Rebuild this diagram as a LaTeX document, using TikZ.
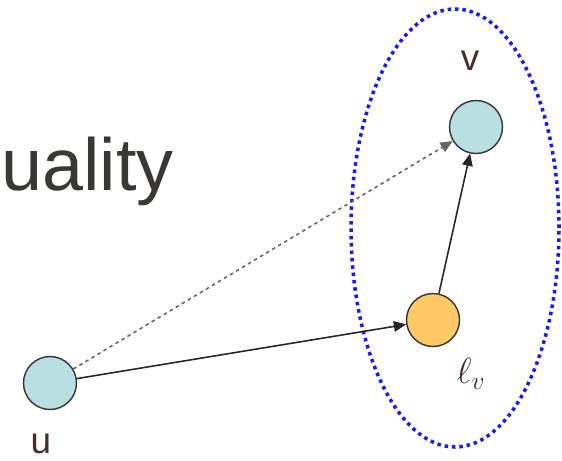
\documentclass[tikz,border=0pt]{standalone}
\usepackage{fontspec}
\setmainfont{Liberation Sans}
\usetikzlibrary{arrows.meta, shapes.geometric}
\usepackage{xcolor}
\definecolor{vertCol}{HTML}{B9DFE2}
\definecolor{landCol}{HTML}{FFC966}
\definecolor{ringCol}{HTML}{1A1AF5}
\definecolor{textCol}{HTML}{3A3835}
\definecolor{labelCol}{HTML}{4A2A30}

\begin{document}
\begin{tikzpicture}[
    vert/.style={circle, draw=black!80, fill=vertCol, line width=0.8pt, minimum size=1.06cm, inner sep=0pt},
    land/.style={vert, fill=landCol},
    lab/.style={font=\fontsize{21}{23}\selectfont, text=labelCol, inner sep=0pt},
    edge/.style={-{Triangle[length=7pt, width=6pt]}, line width=0.9pt, draw=black!85},
    hint/.style={edge, draw=black!60, dash pattern=on 2pt off 2pt}
]
\useasboundingbox (0,0) rectangle (11.24,9.2);

% =====================================================================
% TITLE FRAGMENT
% =====================================================================
\node[anchor=base west, inner sep=0pt, text=textCol, font=\fontsize{42}{46}\selectfont] (TITLE) at (0.02,5.4) {uality};

% =====================================================================
% VERTICES
% =====================================================================
\node[vert] (U) at (1.0,1.54) {};
\node[vert] (V) at (9.52,6.66) {};
\node[land] (LV) at (8.66,2.8) {};

\node[lab] (uLab) at (0.82,0.33) {u};
\node[lab] (vLab) at (9.4,7.98) {v};
\node[lab] (lvLab) at (9.42,1.72) {$\ell_v$};

% dotted ring round v and its landmark
\node[ellipse, draw=ringCol, line width=2pt, dash pattern=on 2pt off 2.2pt, minimum width=4.16cm, minimum height=8.76cm, inner sep=0pt] (RING) at (9.1,4.64) {};

% =====================================================================
% EDGES
% =====================================================================
\draw[hint] (U) -- (V);
\draw[edge] (U) -- (LV);
\draw[edge] (LV) -- (V);

\end{tikzpicture}
\end{document}
